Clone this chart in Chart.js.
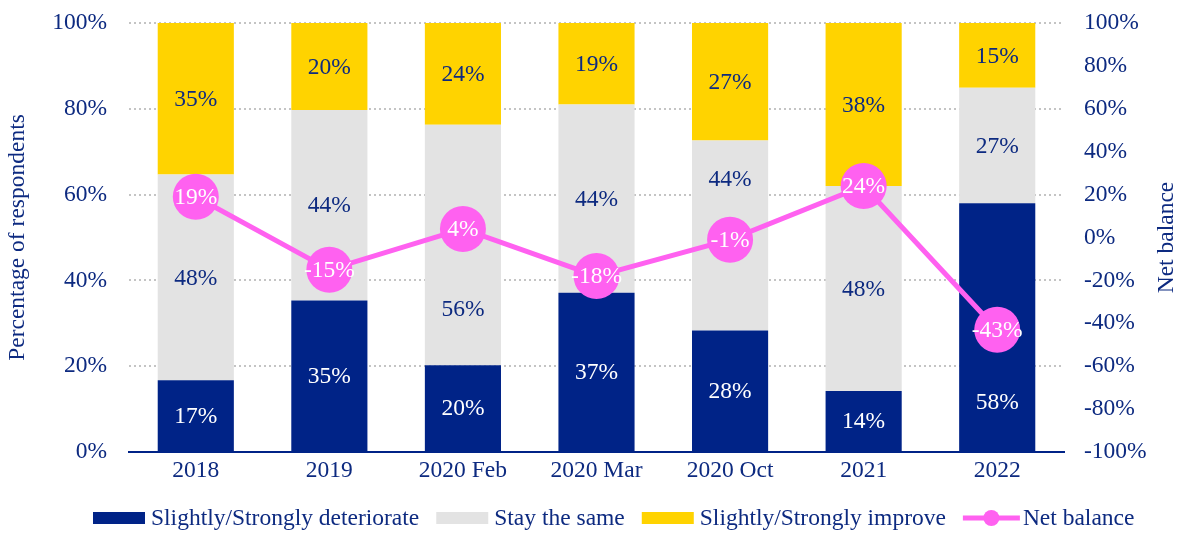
<!DOCTYPE html>
<html><head><meta charset="utf-8">
<script src="https://cdn.jsdelivr.net/npm/chart.js@4"></script>
<style>html,body{margin:0;padding:0;background:#fff}</style>
</head><body>
<canvas id="c" width="1182" height="534"></canvas>
<script>
const categories = ['2018', '2019', '2020 Feb', '2020 Mar', '2020 Oct', '2021', '2022'];
const deteriorate = [16.7, 35.3, 20.2, 37.1, 28.3, 14.2, 58.0];
const staySame = [48.0, 44.4, 56.1, 43.9, 44.3, 47.8, 26.9];
const improve = [35.3, 20.3, 23.7, 19.0, 27.4, 38.0, 15.1];
const netBalance = [19, -15, 4, -18, -1, 24, -43];
const seriesNames = ['Slightly/Strongly deteriorate', 'Stay the same', 'Slightly/Strongly improve', 'Net balance'];

const NAVY = '#002387';
const TEXT = '#0d2a80';
const GREY = '#e3e3e3';
const YELLOW = '#ffd300';
const PINK = '#ff61f0';
const FONT = '"Liberation Serif", "Times New Roman", serif';
const FS = 23.5;
const PR = 23;

const labelPlugin = {
  id: 'valueLabels',
  afterDatasetDraw(chart, args) {
    const ds = chart.data.datasets[args.index];
    const meta = args.meta;
    const ctx = chart.ctx;
    const lineIdx = chart.data.datasets.findIndex(d => d.type === 'line');
    const lineMeta = chart.getDatasetMeta(lineIdx);
    const axisY = chart.chartArea.bottom;
    ctx.save();
    ctx.font = FS + 'px ' + FONT;
    ctx.textAlign = 'center';
    ctx.textBaseline = 'middle';
    ctx.fillStyle = ds.labelColor;
    meta.data.forEach((el, i) => {
      const v = ds.data[i];
      let x = el.x, y = el.y;
      if (ds.type === 'bar') {
        const top = Math.min(el.y, el.base), bot = Math.max(el.y, el.base);
        y = (top + bot) / 2;
        const p = lineMeta.data[i];
        if (p && Math.abs(p.y - y) < PR + 12) {
          const aboveTop = top, aboveBot = p.y - PR;
          const belowTop = p.y + PR, belowBot = bot;
          const onAxis = Math.abs(bot - axisY) < 2;
          if (!onAxis && (aboveBot - aboveTop) > (belowBot - belowTop)) y = (aboveTop + aboveBot) / 2;
          else y = (belowTop + belowBot) / 2;
        }
      }
      ctx.fillText(Math.round(v) + '%', x, y + 1);
    });
    ctx.restore();
  },
  afterDraw(chart) {
    const ctx = chart.ctx;
    const a = chart.chartArea;
    ctx.save();
    ctx.font = FS + 'px ' + FONT;
    ctx.fillStyle = TEXT;
    ctx.textAlign = 'center';
    ctx.textBaseline = 'middle';
    ctx.translate(1167, (a.top + a.bottom) / 2);
    ctx.rotate(-Math.PI / 2);
    ctx.fillText('Net balance', 0, 0);
    ctx.restore();

    // legend
    ctx.save();
    ctx.font = FS + 'px ' + FONT;
    ctx.textBaseline = 'middle';
    ctx.textAlign = 'left';
    const cy = 518;
    let x = 93;
    [1, 2, 3, 0].forEach(i => {
      const ds = chart.data.datasets[i];
      if (ds.type === 'bar') {
        ctx.fillStyle = ds.backgroundColor;
        ctx.fillRect(x, cy - 6, 52, 12);
        x += 58;
      } else {
        ctx.strokeStyle = ds.borderColor; ctx.lineWidth = 5;
        ctx.beginPath(); ctx.moveTo(x, cy); ctx.lineTo(x + 57, cy); ctx.stroke();
        ctx.fillStyle = ds.borderColor;
        ctx.beginPath(); ctx.arc(x + 28.5, cy, 8, 0, Math.PI * 2); ctx.fill();
        x += 60;
      }
      ctx.fillStyle = TEXT;
      ctx.fillText(ds.label, x, cy + 1);
      x += ctx.measureText(ds.label).width + 17;
    });
    ctx.restore();
  }
};

new Chart(document.getElementById('c'), {
  data: {
    labels: categories,
    datasets: [
      { type: 'line', label: seriesNames[3], data: netBalance, yAxisID: 'y2', order: 0,
        borderColor: PINK, backgroundColor: PINK, borderWidth: 5, pointRadius: PR, pointHoverRadius: PR,
        pointBorderWidth: 0, labelColor: '#ffffff' },
      { type: 'bar', label: seriesNames[0], data: deteriorate, yAxisID: 'y', order: 1,
        backgroundColor: NAVY, labelColor: '#ffffff' },
      { type: 'bar', label: seriesNames[1], data: staySame, yAxisID: 'y', order: 1,
        backgroundColor: GREY, labelColor: TEXT },
      { type: 'bar', label: seriesNames[2], data: improve, yAxisID: 'y', order: 1,
        backgroundColor: YELLOW, labelColor: TEXT }
    ]
  },
  options: {
    responsive: false,
    animation: false,
    layout: { padding: { top: 0, bottom: 42, left: 0, right: 0 } },
    datasets: { bar: { categoryPercentage: 1, barPercentage: 0.57, borderWidth: 0 } },
    plugins: {
      tooltip: { enabled: false },
      legend: { display: false }
    },
    scales: {
      x: {
        stacked: true,
        grid: { display: false },
        border: { display: true, color: NAVY, width: 2 },
        ticks: { font: { family: FONT, size: FS }, color: TEXT, padding: -3 },
        afterFit(s) { s.height = 40; }
      },
      y: {
        stacked: true, position: 'left', min: 0, max: 100,
        ticks: { stepSize: 20, font: { family: FONT, size: FS }, color: TEXT, padding: 22,
          callback: v => v + '%' },
        grid: { color: ctx => ctx.tick && ctx.tick.value === 0 ? 'rgba(0,0,0,0)' : '#c4c4c4',
          lineWidth: 2, drawTicks: false },
        border: { display: false, dash: [2, 3] },
        title: { display: true, text: 'Percentage of respondents', font: { family: FONT, size: FS }, color: TEXT, padding: { top: 4, bottom: 0 } },
        afterFit(s) { s.width = 129; s.paddingTop = 21; s.paddingBottom = 10; }
      },
      y2: {
        position: 'right', min: -100, max: 100,
        ticks: { stepSize: 20, font: { family: FONT, size: FS }, color: TEXT, padding: 12,
          callback: v => v + '%' },
        grid: { display: false },
        border: { display: false },
        afterFit(s) { s.width = 118; s.paddingTop = 21; s.paddingBottom = 10; }
      }
    }
  },
  plugins: [labelPlugin]
});
</script>
</body></html>
